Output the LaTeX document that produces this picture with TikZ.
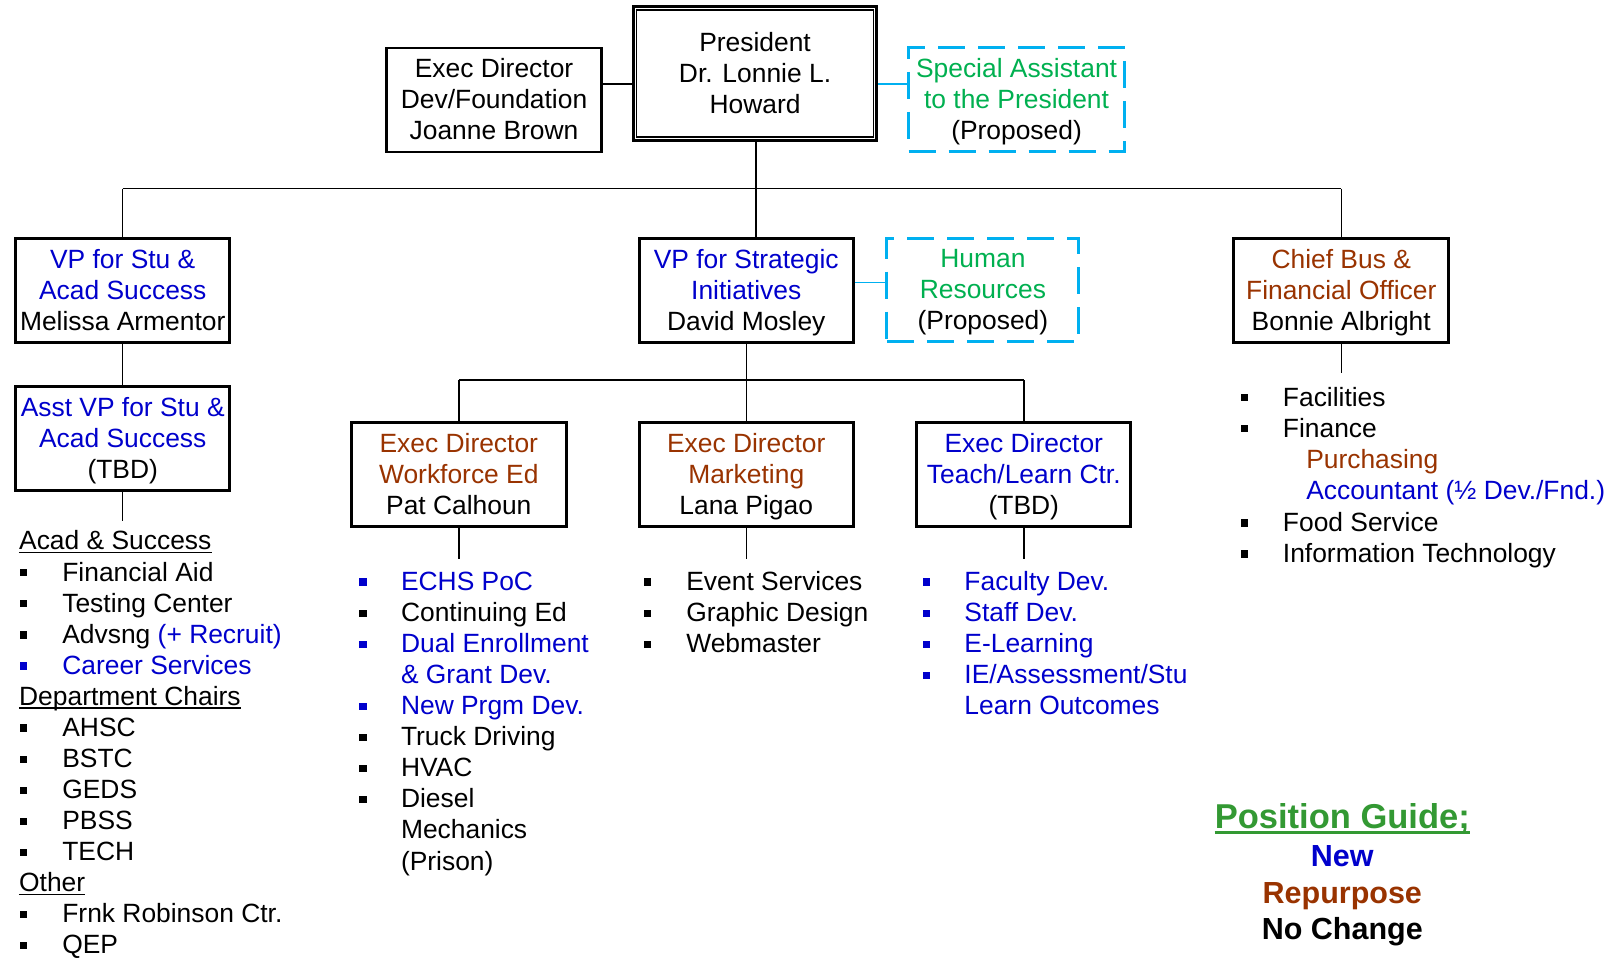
\documentclass[tikz,border=0pt]{standalone}
\usepackage{fontspec}
\setmainfont{Liberation Sans}
\definecolor{nblue}{RGB}{0,0,204}
\definecolor{rbrown}{RGB}{153,51,0}
\definecolor{pgreen}{RGB}{0,176,80}
\definecolor{gguide}{RGB}{51,153,51}
\definecolor{dcyan}{RGB}{0,176,240}
\newcommand\Item[6]{%
  \fill[#2] (#3-3.5,#5-11.5) rectangle (#3+3.5,#5-4.5);
  \node[listtext, text=#2] (#1) at (#4,#5) {#6};}
\newcommand\Cont[5]{%
  \node[listtext, text=#2] (#1) at (#3,#4) {#5};}
\newcommand\Head[4]{%
  \node[listtext] (#1) at (#2,#3) {#4};
  \draw[line width=1.3pt] ([yshift=-2.6pt]#1.base west) -- ([yshift=-2.6pt]#1.base east);}
\newcommand\Bstrut{\rule[-6pt]{0pt}{6pt}}
\newcommand\Tst{\rule{0pt}{23.5pt}}
\tikzset{
  txt/.style={font=\fontsize{26.4}{31}\selectfont},
  boxtxt/.style={txt, inner sep=0pt, align=center, execute at end node=\Bstrut},
  box/.style={boxtxt, draw=black, line width=2.8pt},
  dbox/.style={boxtxt, draw=dcyan, line width=3pt, dash pattern=on 27pt off 13pt},
  conn/.style={line width=1.4pt, draw=black},
  cconn/.style={line width=1.4pt, draw=dcyan},
  listtext/.style={txt, inner sep=0pt, anchor=base west},
  guide/.style={inner sep=0pt, anchor=base, font=\bfseries\fontsize{30.5}{36}\selectfont},
}
\begin{document}
\begin{tikzpicture}[x=1.0357pt,y=-1.0357pt]
\useasboundingbox (0,0) rectangle (1568,924);
\fill[white] (0,0) rectangle (1568,924);

% top level
\node[box, minimum width=215pt, minimum height=104pt] (exec) at (477,96.5)
  {\Tst Exec Director\\Dev/Foundation\\Joanne Brown};
\node[box, line width=3pt, minimum width=243.5pt, minimum height=134pt] (pres) at (729,71)
  {\Tst President\\Dr. Lonnie L.\\Howard};
\draw[line width=1.5pt] ([shift={(4.8pt,-4.8pt)}]pres.north west) rectangle ([shift={(-4.8pt,4.8pt)}]pres.south east);
\node[dbox, minimum width=216pt, minimum height=104pt] (spec) at (981.5,96.5)
  {\Tst\textcolor{pgreen}{Special Assistant}\\\textcolor{pgreen}{to the President}\\(Proposed)};

% second level
\node[box, minimum width=214pt, minimum height=104pt] (vpsa) at (118.5,280.5)
  {\Tst\textcolor{nblue}{VP for Stu \&}\\\textcolor{nblue}{Acad Success}\\Melissa Armentor};
\node[box, minimum width=214pt, minimum height=104pt] (vps) at (720.5,280.5)
  {\Tst\textcolor{nblue}{VP for Strategic}\\\textcolor{nblue}{Initiatives}\\David Mosley};
\node[dbox, minimum width=192pt, minimum height=103pt] (hr) at (949,280)
  {\Tst\textcolor{pgreen}{Human}\\\textcolor{pgreen}{Resources}\\(Proposed)};
\node[box, minimum width=215pt, minimum height=104pt] (chief) at (1295,280.5)
  {\Tst\textcolor{rbrown}{Chief Bus \&}\\\textcolor{rbrown}{Financial Officer}\\Bonnie Albright};
\node[box, minimum width=214pt, minimum height=104pt] (asst) at (118.5,423.5)
  {\Tst\textcolor{nblue}{Asst VP for Stu \&}\\\textcolor{nblue}{Acad Success}\\(TBD)};

% third level
\node[box, minimum width=215pt, minimum height=104pt] (wf) at (443,458.5)
  {\Tst\textcolor{rbrown}{Exec Director}\\\textcolor{rbrown}{Workforce Ed}\\Pat Calhoun};
\node[box, minimum width=214pt, minimum height=104pt] (mk) at (720.5,458.5)
  {\Tst\textcolor{rbrown}{Exec Director}\\\textcolor{rbrown}{Marketing}\\Lana Pigao};
\node[box, minimum width=214pt, minimum height=104pt] (tl) at (988.5,458.5)
  {\Tst\textcolor{nblue}{Exec Director}\\\textcolor{nblue}{Teach/Learn Ctr.}\\(TBD)};

% connectors
\coordinate (pe) at (0,81);
\coordinate (he) at (0,273);
\coordinate (bus) at (0,182);
\coordinate (bus2) at (0,367);
\coordinate (stub) at (0,540);
\coordinate (pdrop) at (730,182);
\draw[conn] (exec.east |- pe) -- (pres.west |- pe);
\draw[cconn] (pres.east |- pe) -- (spec.west |- pe);
\draw[cconn] (vps.east |- he) -- (hr.west |- he);
\draw[conn] (pdrop |- pres.south) -- (pdrop);
\draw[conn] (vpsa.north |- bus) -- (chief.north |- bus);
\draw[conn] (vpsa.north |- bus) -- (vpsa.north);
\draw[conn] (pdrop) -- (pdrop |- vps.north);
\draw[conn] (chief.north |- bus) -- (chief.north);
\draw[conn] (vpsa.south) -- (asst.north);
\coordinate (asstend) at (118.5,503.5);
\draw[conn] (asst.south) -- (asstend);
\draw[conn] (vps.south) -- (vps.south |- bus2);
\draw[conn] (wf.north |- bus2) -- (tl.north |- bus2);
\draw[conn] (wf.north |- bus2) -- (wf.north);
\draw[conn] (mk.north |- bus2) -- (mk.north);
\draw[conn] (tl.north |- bus2) -- (tl.north);
\draw[conn] (wf.south) -- (wf.south |- stub);
\draw[conn] (mk.south) -- (mk.south |- stub);
\draw[conn] (tl.south) -- (tl.south |- stub);
\coordinate (chiefend) at (1295,360);
\draw[conn] (chief.south) -- (chiefend);

% left list
\Head{h1}{18.3}{531}{Acad \& Success}
\Item{l1}{black}{22.5}{60}{561}{Financial Aid}
\Item{l2}{black}{22.5}{60}{591}{Testing Center}
\Item{l3}{black}{22.5}{60}{621}{Advsng \textcolor{nblue}{(+ Recruit)}}
\Item{l4}{nblue}{22.5}{60}{651}{Career Services}
\Head{h2}{18.3}{681}{Department Chairs}
\Item{l5}{black}{22.5}{60}{711}{AHSC}
\Item{l6}{black}{22.5}{60}{741}{BSTC}
\Item{l7}{black}{22.5}{60}{771}{GEDS}
\Item{l8}{black}{22.5}{60}{801}{PBSS}
\Item{l9}{black}{22.5}{60}{831}{TECH}
\Head{h3}{18.3}{861}{Other}
\Item{l10}{black}{22.5}{60}{891}{Frnk Robinson Ctr.}
\Item{l11}{black}{22.5}{60}{921}{QEP}

% workforce list
\Item{w1}{nblue}{350.5}{387}{570}{ECHS PoC}
\Item{w2}{black}{350.5}{387}{600}{Continuing Ed}
\Item{w3}{nblue}{350.5}{387}{630}{Dual Enrollment}
\Cont{w3b}{nblue}{387}{660}{\& Grant Dev.}
\Item{w4}{nblue}{350.5}{387}{690}{New Prgm Dev.}
\Item{w5}{black}{350.5}{387}{720}{Truck Driving}
\Item{w6}{black}{350.5}{387}{750}{HVAC}
\Item{w7}{black}{350.5}{387}{780}{Diesel}
\Cont{w7b}{black}{387}{810}{Mechanics}
\Cont{w7c}{black}{387}{840}{(Prison)}

% marketing list
\Item{m1}{black}{625.5}{662.5}{570}{Event Services}
\Item{m2}{black}{625.5}{662.5}{600}{Graphic Design}
\Item{m3}{black}{625.5}{662.5}{630}{Webmaster}

% teach/learn list
\Item{t1}{nblue}{894.5}{931}{570}{Faculty Dev.}
\Item{t2}{nblue}{894.5}{931}{600}{Staff Dev.}
\Item{t3}{nblue}{894.5}{931}{630}{E-Learning}
\Item{t4}{nblue}{894.5}{931}{660}{IE/Assessment/Stu}
\Cont{t4b}{nblue}{931}{690}{Learn Outcomes}

% chief list
\Item{c1}{black}{1201.5}{1238.5}{392}{Facilities}
\Item{c2}{black}{1201.5}{1238.5}{422}{Finance}
\Cont{c2a}{rbrown}{1261}{452}{Purchasing}
\Cont{c2b}{nblue}{1261}{482}{Accountant (½ Dev./Fnd.)}
\Item{c3}{black}{1201.5}{1238.5}{513}{Food Service}
\Item{c4}{black}{1201.5}{1238.5}{543}{Information Technology}

% position guide
\node[guide, text=gguide, font=\bfseries\fontsize{34.5}{40}\selectfont] (pg) at (1296,800) {Position Guide;};
\draw[gguide, line width=2.8pt] ([yshift=-3.6pt]pg.base west) -- ([yshift=-3.6pt]pg.base east);
\node[guide, text=nblue] (gnew) at (1296,837) {New};
\node[guide, text=rbrown] (grep) at (1296,872) {Repurpose};
\node[guide, text=black] (gno) at (1296,907) {No Change};
\end{tikzpicture}
\end{document}
